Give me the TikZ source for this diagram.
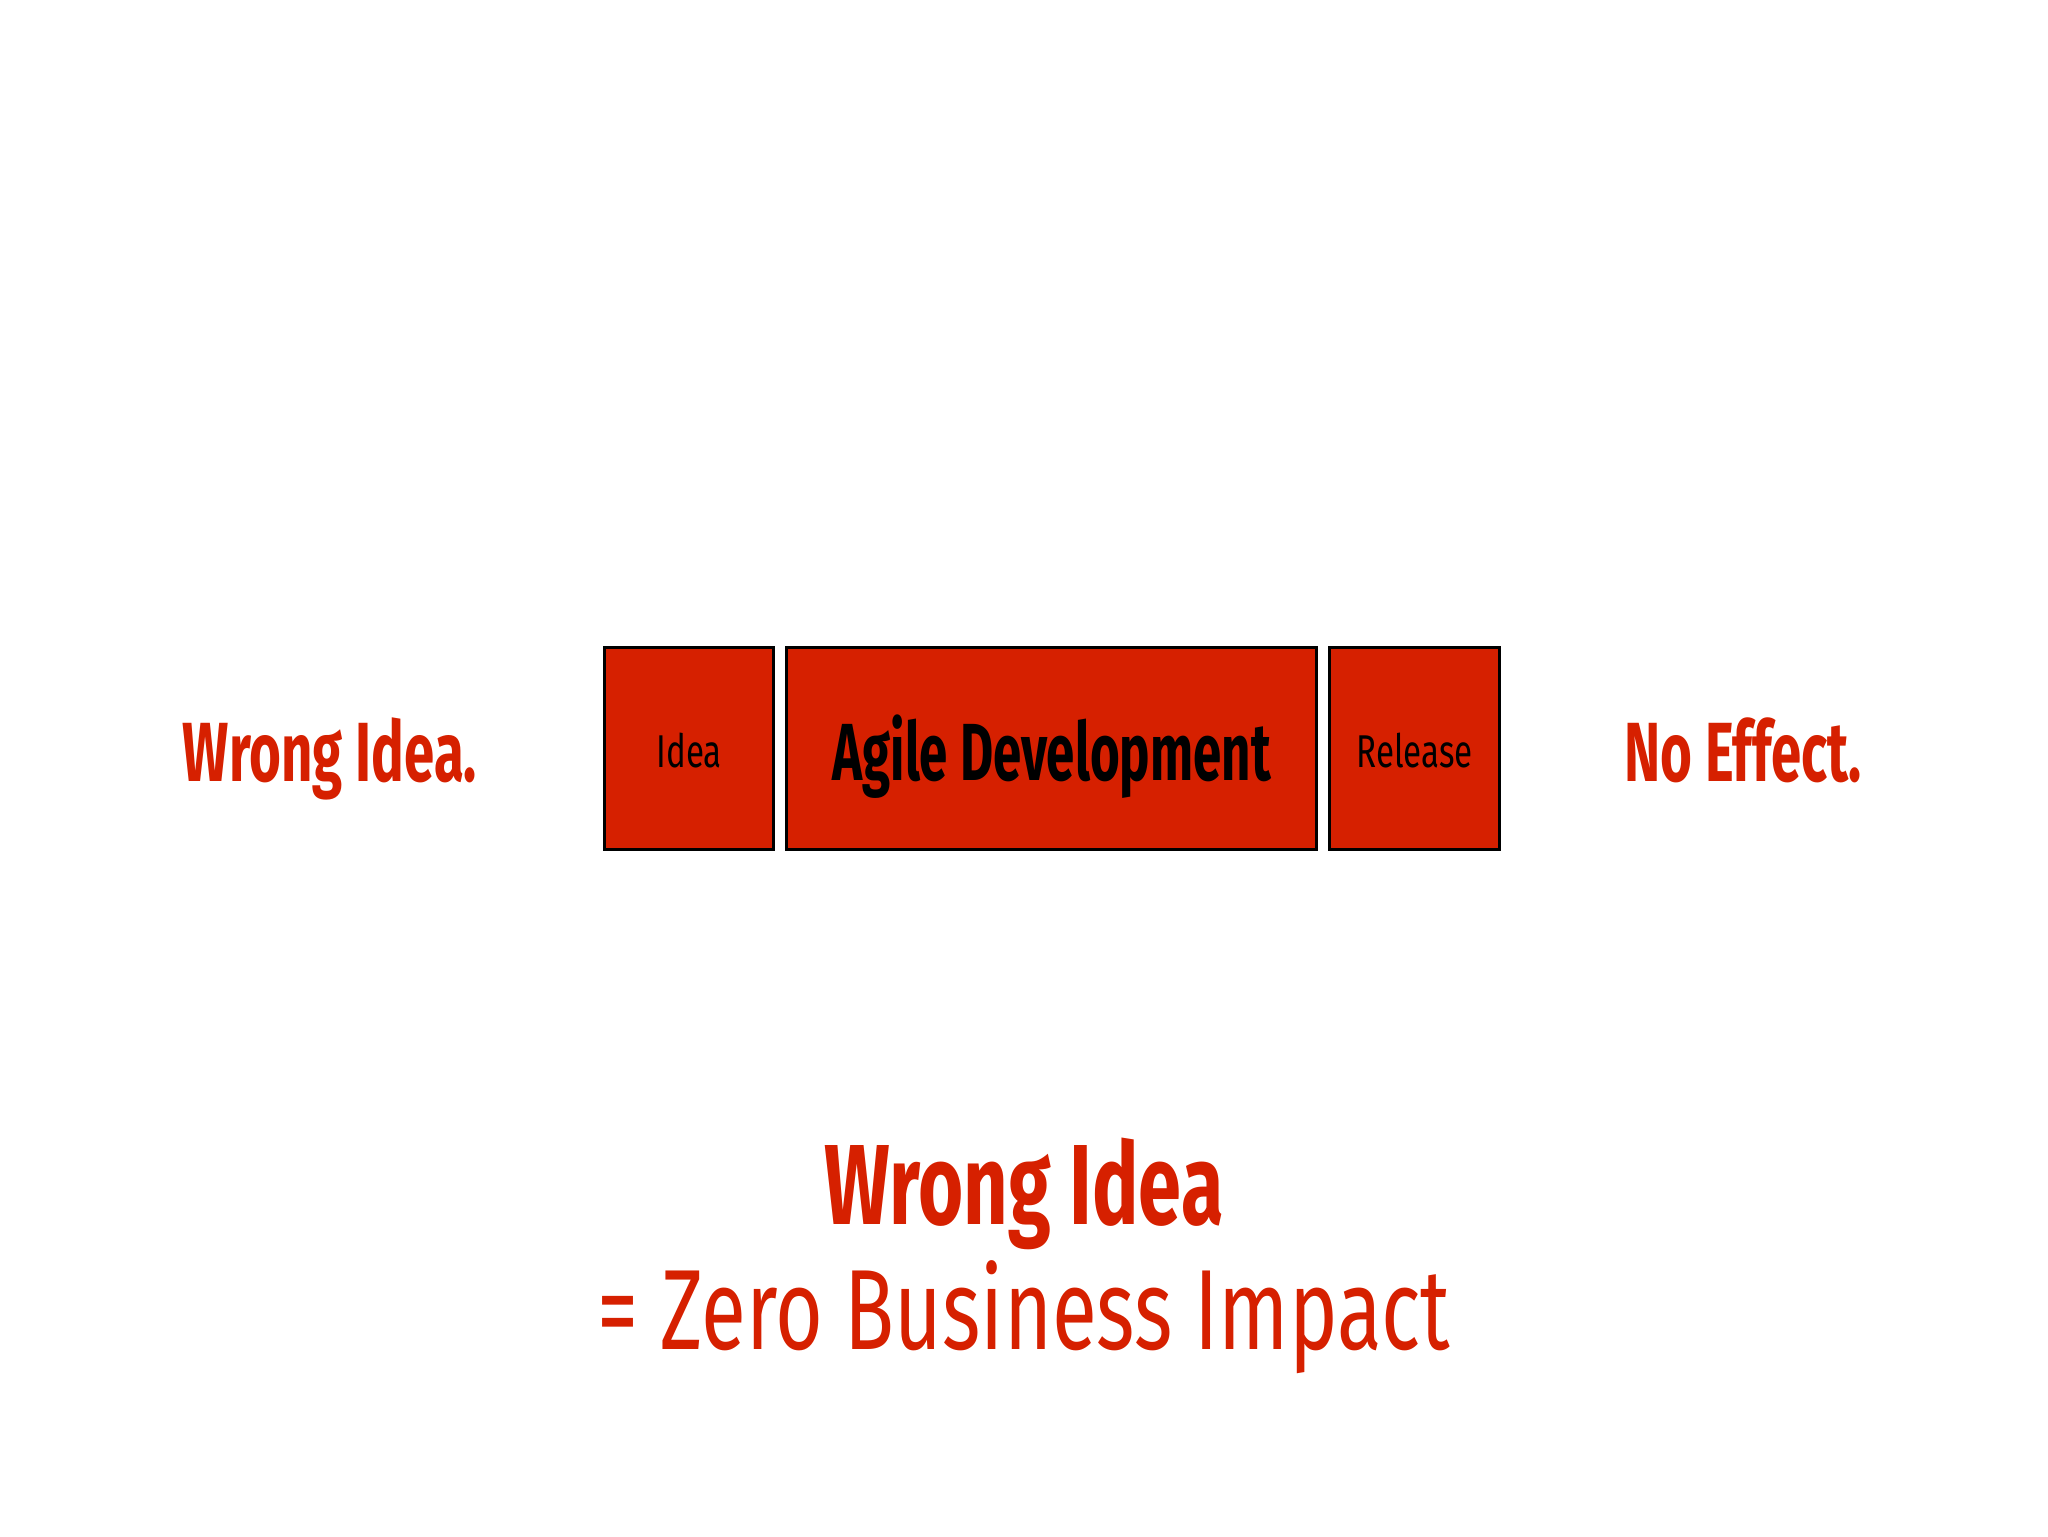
\documentclass[tikz,border=0pt]{standalone}
\usepackage{xcolor}
\usepackage{fontspec}
\setmainfont{Fira Sans}[FakeStretch=0.72]
\newfontfamily\sidefont{Fira Sans}[FakeStretch=0.65]
\newfontfamily\agilefont{Fira Sans}[FakeStretch=0.63]
\newfontfamily\headfont{Fira Sans}[FakeStretch=0.68]
\usetikzlibrary{calc}
\definecolor{slidered}{RGB}{214,32,0}

\begin{document}
\begin{tikzpicture}[x=0.5pt, y=-0.5pt,
        box/.style={draw=black, line width=1.6pt, fill=slidered, anchor=north west,
            inner sep=0pt, minimum height=101pt, text depth=0pt},
        side/.style={text=slidered, anchor=base, font=\sidefont\bfseries\fontsize{42}{46}\selectfont},
        claim/.style={text=slidered, anchor=base}]
    \useasboundingbox (0,0) rectangle (2048,1536);
            \node[box, minimum width=84.5pt, text height=18.5pt,
                font=\fontsize{23}{26}\selectfont] (idea) at (603,646) {Idea};
            \node[box, minimum width=265pt, text height=31.5pt,
                font=\agilefont\bfseries\fontsize{40.5}{44}\selectfont] (agile) at (785,646) {Agile Development};
            \node[box, minimum width=85pt, text height=18.5pt,
                font=\fontsize{23}{26}\selectfont] (release) at (1328,646) {Release};
            \node[side] (wrong) at (330,781) {Wrong Idea.};
            \node[side] (effect) at (1743,781) {No Effect.};
            \node[claim, font=\headfont\bfseries\fontsize{57}{60}\selectfont] (headline) at (1024,1224) {Wrong Idea};
            \node[claim, font=\fontsize{57}{60}\selectfont] (impact) at (1024,1349) {= Zero Business Impact};
    \end{tikzpicture}
\end{document}
